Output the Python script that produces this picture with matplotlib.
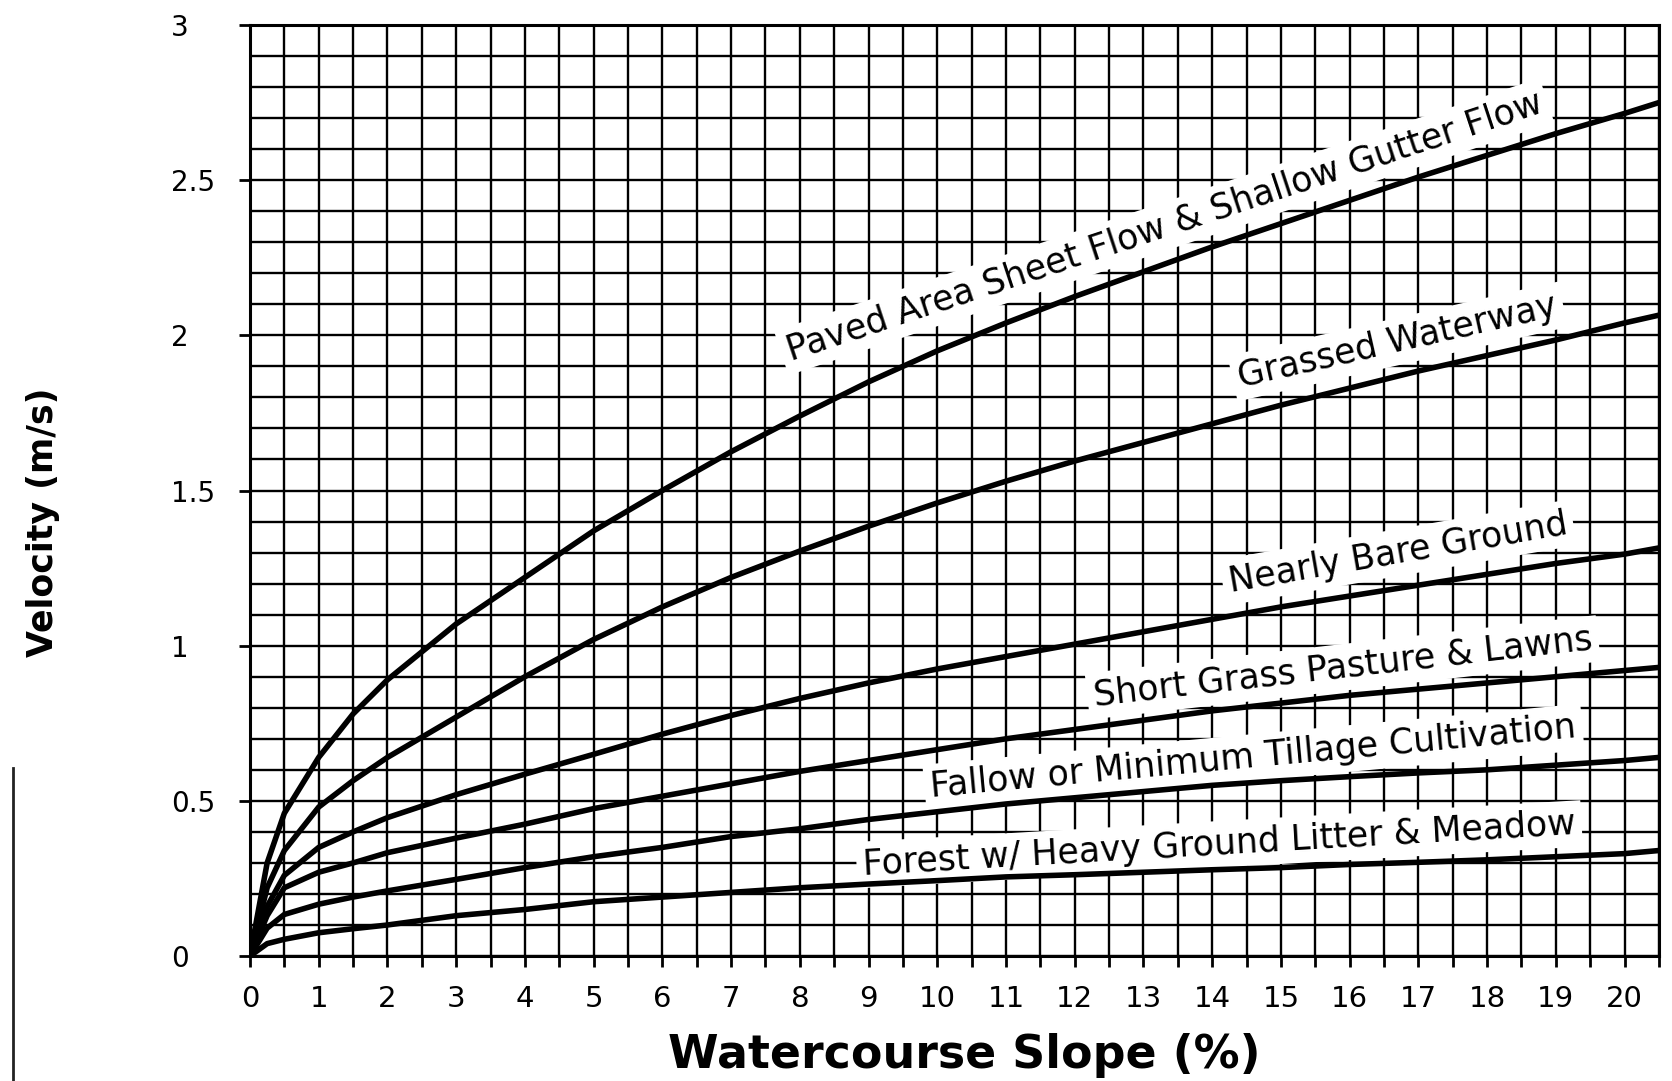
import matplotlib
matplotlib.use("Agg")
import matplotlib.pyplot as plt
from matplotlib.lines import Line2D
import numpy as np

# ---- data ----
slope = [0, 0.25, 0.5, 1, 1.5, 2, 3, 4, 5, 6, 7, 8, 9, 10, 11, 12, 13, 14, 15, 16, 17, 18, 19, 20, 20.5]
paved = [0, 0.30, 0.46, 0.64, 0.78, 0.89, 1.07, 1.22, 1.37, 1.50, 1.625, 1.74, 1.85, 1.95, 2.04, 2.125,
         2.205, 2.285, 2.36, 2.435, 2.51, 2.58, 2.65, 2.715, 2.75]
grassed = [0, 0.22, 0.34, 0.48, 0.565, 0.64, 0.77, 0.90, 1.02, 1.125, 1.22, 1.305, 1.385, 1.46, 1.53, 1.595,
           1.655, 1.715, 1.775, 1.83, 1.885, 1.935, 1.985, 2.04, 2.065]
bare = [0, 0.16, 0.26, 0.35, 0.40, 0.446, 0.52, 0.586, 0.65, 0.715, 0.775, 0.83, 0.88, 0.925, 0.965, 1.005,
        1.045, 1.085, 1.125, 1.16, 1.195, 1.23, 1.265, 1.295, 1.315]
short_grass = [0, 0.13, 0.22, 0.27, 0.30, 0.333, 0.38, 0.425, 0.475, 0.515, 0.555, 0.595, 0.63, 0.665, 0.70,
               0.73, 0.76, 0.79, 0.815, 0.84, 0.86, 0.88, 0.90, 0.92, 0.93]
fallow = [0, 0.09, 0.134, 0.167, 0.19, 0.21, 0.247, 0.285, 0.32, 0.35, 0.385, 0.41, 0.44, 0.465, 0.49,
          0.51, 0.53, 0.55, 0.565, 0.578, 0.59, 0.60, 0.615, 0.63, 0.64]
forest = [0, 0.04, 0.054, 0.075, 0.088, 0.10, 0.13, 0.15, 0.175, 0.19, 0.205, 0.22, 0.232, 0.243, 0.255,
          0.262, 0.27, 0.278, 0.285, 0.295, 0.302, 0.31, 0.32, 0.33, 0.34]

series = [paved, grassed, bare, short_grass, fallow, forest]
labels = ["Paved Area Sheet Flow & Shallow Gutter Flow",
          "Grassed Waterway",
          "Nearly Bare Ground",
          "Short Grass Pasture & Lawns",
          "Fallow or Minimum Tillage Cultivation",
          "Forest w/ Heavy Ground Litter & Meadow"]
label_pos = [(13.3, 2.35), (16.7, 1.98), (16.7, 1.30), (15.9, 0.93), (14.6, 0.64), (14.1, 0.36)]
label_rot = [18.3, 12.7, 9.8, 6.5, 5.3, 3.3]

xticks = list(range(0, 21))
xticklabels = [str(v) for v in xticks]
yticks = [0, 0.5, 1, 1.5, 2, 2.5, 3]
yticklabels = ["0", "0.5", "1", "1.5", "2", "2.5", "3"]

# ---- figure ----
plt.rcParams['font.family'] = ['DejaVu Sans']
fig = plt.figure(figsize=(16.72, 10.81), dpi=100)
ax = fig.add_axes([0.1495, 0.1156, 0.9922 - 0.1495, 0.9769 - 0.1156])

ax.set_xlim(0, 20.5)
ax.set_ylim(0, 3)

ax.set_xticks(xticks)
ax.set_xticklabels(xticklabels, fontsize=21)
ax.set_xticks(np.arange(0.5, 20.6, 1.0), minor=True)
ax.set_yticks(yticks)
ax.set_yticklabels(yticklabels, fontsize=20)
ax.set_yticks(np.arange(0, 3.01, 0.1), minor=True)

ax.tick_params(axis='x', which='both', direction='out', length=8, width=2, pad=13, color='black')
ax.tick_params(axis='y', which='major', direction='out', length=8, width=2, pad=49)
ax.tick_params(axis='y', which='minor', length=0)
for t in ax.get_yticklabels():
    t.set_horizontalalignment('left')

ax.grid(True, which='both', axis='both', color='black', linewidth=1.7)
ax.set_axisbelow(True)
for sp in ax.spines.values():
    sp.set_linewidth(2.2)
    sp.set_color('black')

for ys in series:
    ax.plot(slope, ys, color='black', linewidth=4.0, solid_joinstyle='round',
            solid_capstyle='round', zorder=4)

for txt, (x, y), rot in zip(labels, label_pos, label_rot):
    ax.text(x, y, txt, fontsize=25, rotation=rot, rotation_mode='anchor',
            ha='center', va='center', color='black', zorder=3,
            bbox=dict(boxstyle='square,pad=0.18', facecolor='white', edgecolor='none'))

ax.set_xlabel("Watercourse Slope (%)", fontsize=33, fontweight='bold')
ax.xaxis.set_label_coords(0.507, -0.107)
ax.xaxis.label.set_va('center')
ax.set_ylabel("Velocity (m/s)", fontsize=25, fontweight='bold')
ax.yaxis.set_label_coords(-0.147, 0.466)
ax.yaxis.label.set_va('center')

# scan edge artifact at far left
fig.add_artist(Line2D([13 / 1672, 13 / 1672], [1 - 768 / 1081, 0.0], color='#222222', linewidth=2))

fig.savefig("out.png", dpi=100, facecolor='white')
